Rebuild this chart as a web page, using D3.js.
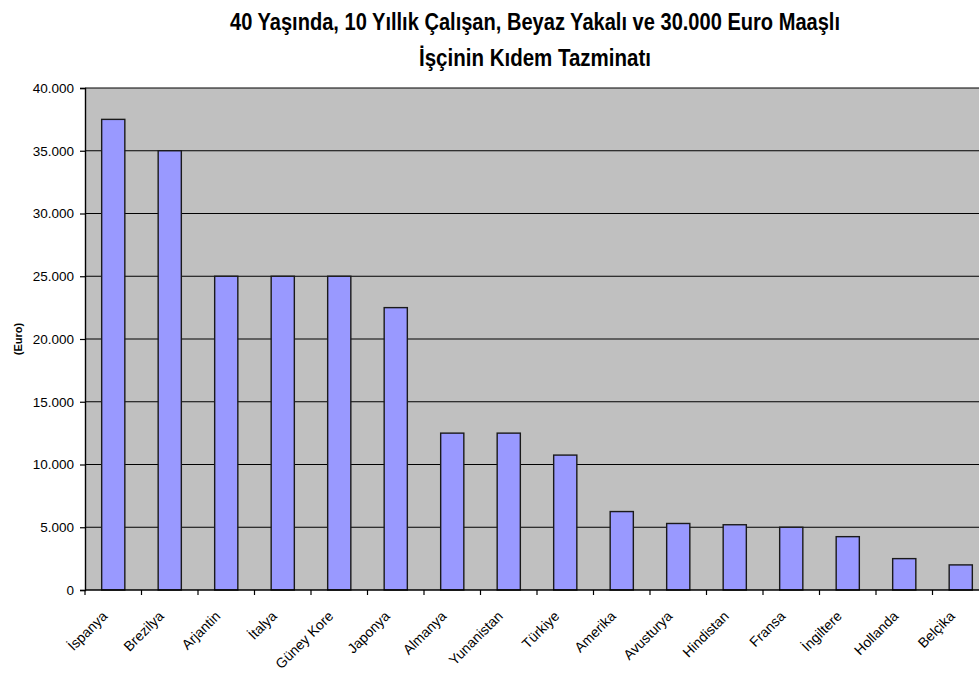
<!DOCTYPE html>
<html>
<head>
<meta charset="utf-8">
<script src="https://cdn.jsdelivr.net/npm/d3@7"></script>
<style>
  body { margin: 0; background: #fff; }
  svg { display: block; }
  .title { font-family: "Liberation Sans", Arial, sans-serif; font-weight: bold; font-size: 23px; }
  .axis text { font-family: "Liberation Sans", Arial, sans-serif; font-size: 13.5px; fill: #000; }
  .axis text.xlab { font-size: 14px; }
  .grid line { stroke: #000; stroke-width: 1.2; }
</style>
</head>
<body>
<svg width="979" height="679"></svg>
<script>
var countries = ["İspanya", "Brezilya", "Arjantin", "İtalya", "Güney Kore", "Japonya", "Almanya", "Yunanistan",
                 "Türkiye", "Amerika", "Avusturya", "Hindistan", "Fransa", "İngiltere", "Hollanda", "Belçika"];
var amounts = [37500, 35000, 25000, 25000, 25000, 22500, 12500, 12500,
               10750, 6250, 5300, 5200, 5000, 4250, 2500, 2000];
var yTicks = [0, 5000, 10000, 15000, 20000, 25000, 30000, 35000, 40000];
var titleLines = ["40 Yaşında, 10 Yıllık Çalışan, Beyaz Yakalı ve 30.000 Euro Maaşlı", "İşçinin Kıdem Tazminatı"];
var titleWidths = [610, 232];

var margin = {left: 85, top: 88, right: -10, bottom: 89};
var svg = d3.select("svg");
var width  = 979 - margin.left - margin.right;
var height = 679 - margin.top - margin.bottom;
var svgG = svg.append("g")
    .attr("transform", "translate(" + margin.left + "," + margin.top + ")");

var xScale = d3.scaleBand()
    .domain(countries)
    .range([0, width])
    .paddingInner(0.59)
    .paddingOuter(0.295);
var yScale = d3.scaleLinear()
    .domain([0, 40000])
    .range([height, 0]);

var fmt = function(d) { return d === 0 ? "0" : d3.format(",")(d).replace(/,/g, "."); };

// plot background
svgG.append("rect")
    .attr("width", width)
    .attr("height", height)
    .attr("fill", "#c0c0c0");

// gridlines
svgG.append("g")
    .attr("class", "grid")
    .selectAll("line")
    .data(yTicks.slice(1))
    .enter().append("line")
    .attr("x1", 0)
    .attr("x2", width)
    .attr("y1", function(d) { return yScale(d); })
    .attr("y2", function(d) { return yScale(d); });

// bars
svgG.append("g")
    .selectAll("rect")
    .data(amounts)
    .enter().append("rect")
    .attr("x", function(d, i) { return xScale(countries[i]); })
    .attr("y", function(d) { return yScale(d); })
    .attr("width", xScale.bandwidth())
    .attr("height", function(d) { return height - yScale(d); })
    .attr("fill", "#9999ff")
    .attr("stroke", "#1a1a1a")
    .attr("stroke-width", 1.4);

// y axis
var yAxis = svgG.append("g")
    .attr("class", "axis")
    .call(d3.axisLeft(yScale)
        .tickValues(yTicks)
        .tickFormat(fmt)
        .tickSize(5)
        .tickPadding(6));
yAxis.select(".domain").attr("stroke", "#000").attr("stroke-width", 1.4);
yAxis.selectAll(".tick line").attr("stroke", "#000").attr("stroke-width", 1.2);

// x axis
var xAxisG = svgG.append("g")
    .attr("class", "axis")
    .attr("transform", "translate(0," + height + ")");
xAxisG.append("line")
    .attr("x1", 0).attr("x2", width)
    .attr("stroke", "#000").attr("stroke-width", 1.4);
var step = xScale.step();
xAxisG.selectAll(".xtick")
    .data(countries)
    .enter().append("line")
    .attr("x1", function(d) { return xScale(d) - (step - xScale.bandwidth()) / 2; })
    .attr("x2", function(d) { return xScale(d) - (step - xScale.bandwidth()) / 2; })
    .attr("y1", 0).attr("y2", 5)
    .attr("stroke", "#000").attr("stroke-width", 1.2);
xAxisG.selectAll(".xlab")
    .data(countries)
    .enter().append("text")
    .attr("class", "xlab")
    .attr("text-anchor", "end")
    .attr("transform", function(d) {
        return "translate(" + (xScale(d) + xScale.bandwidth() / 2 - 12) + ",20) rotate(-45)";
    })
    .attr("dy", "0.7em")
    .text(function(d) { return d; });

// y label
svg.append("text")
    .attr("transform", "translate(22," + (margin.top + height / 2) + ") rotate(-90)")
    .attr("text-anchor", "middle")
    .style("font-family", "Liberation Sans, Arial, sans-serif")
    .style("font-weight", "bold")
    .style("font-size", "11px")
    .text("(Euro)");

// title
svg.append("g")
    .selectAll("text")
    .data(titleLines)
    .enter().append("text")
    .attr("class", "title")
    .attr("x", 535)
    .attr("y", function(d, i) { return 30 + i * 36; })
    .attr("text-anchor", "middle")
    .attr("textLength", function(d, i) { return titleWidths[i]; })
    .attr("lengthAdjust", "spacingAndGlyphs")
    .text(function(d) { return d; });
</script>
</body>
</html>
